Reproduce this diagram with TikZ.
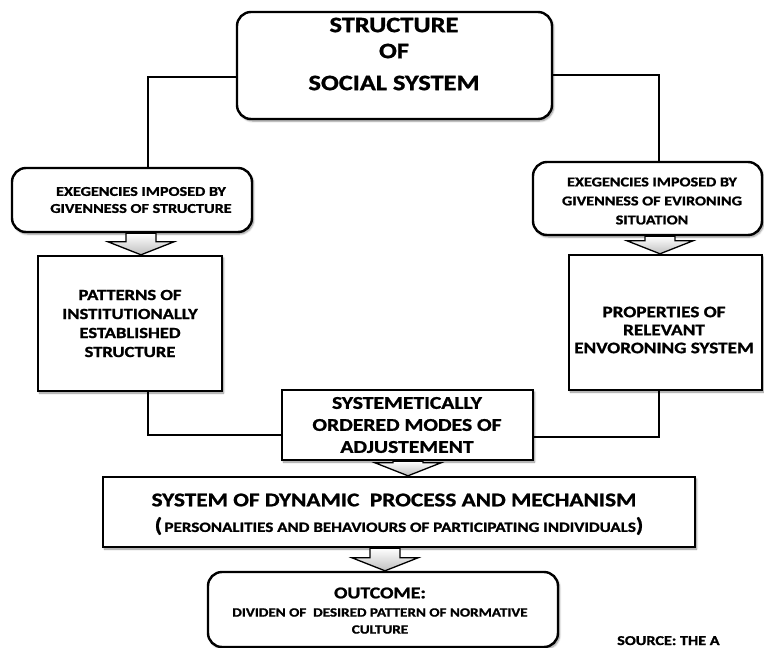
\documentclass[tikz,border=0pt]{standalone}
\usepackage{fontspec}
\setmainfont{Carlito}
\newfontfamily\widefont{Carlito}[FakeStretch=1.2, FakeBold=1.2]
\usetikzlibrary{shadows.blur,calc}
\newcommand{\blockarr}[3]{%
  \draw[barr] let \p1=(#2.south), \p2=(#3.north) in
    ({#1pt-15pt},{\y1}) -- ({#1pt+15pt},{\y1}) -- ({#1pt+15pt},{\y2+13pt}) --
    ({#1pt+33pt},{\y2+13pt}) -- ({#1pt},{\y2}) -- ({#1pt-33pt},{\y2+13pt}) --
    ({#1pt-15pt},{\y2+13pt}) -- cycle;}
\newcommand{\fs}[2]{\fontsize{#1}{#2}\widefont\bfseries}
\begin{document}
\begin{tikzpicture}[x=1pt,y=-1pt,
  box/.style={draw, line width=2.4pt, fill=white,
    blur shadow={shadow xshift=1.5pt, shadow yshift=-2pt, shadow blur steps=6, shadow opacity=45},
    inner sep=0pt},
  rbox/.style={box, rounded corners=14pt},
  txt/.style={align=center, inner sep=0pt},
  conn/.style={line width=2.2pt},
  barr/.style={draw, line width=1.3pt, top color=white, bottom color=gray!50},
]
\useasboundingbox (0,0) rectangle (764,648);

% boxes
\node[rbox, minimum width=315pt, minimum height=107pt] (top) at (394.5,65.5) {};
\node[rbox, minimum width=240pt, minimum height=64pt] (lexg) at (132,200) {};
\node[rbox, minimum width=229pt, minimum height=73pt] (rexg) at (647.5,198.5) {};
\node[box, minimum width=184pt, minimum height=135pt] (lpat) at (130,323.5) {};
\node[box, minimum width=193pt, minimum height=135pt] (rpat) at (665.5,322.5) {};
\node[box, minimum width=251pt, minimum height=70pt] (sysm) at (407.5,425) {};
\node[box, minimum width=592pt, minimum height=70pt] (dyn) at (399,512) {};
\node[rbox, minimum width=350pt, minimum height=75pt] (out) at (383,609.5) {};

% connectors
\draw[conn] (top.west |- 0,77) -| (148,0 |- lexg.north);
\draw[conn] (top.east |- 0,75) -| (659,0 |- rexg.north);
\draw[conn] (148,0 |- lpat.south) |- (sysm.west |- 0,435);
\draw[conn] (659,0 |- rpat.south) |- (sysm.east |- 0,437);

% block arrows
\blockarr{141}{lexg}{lpat}
\blockarr{660}{rexg}{rpat}
\blockarr{408}{sysm}{dyn}
\blockarr{385}{dyn}{out}

% texts
\node[txt, font=\fs{22}{26}] (ttop) at (394,54)
  {STRUCTURE\\OF\\[6pt]SOCIAL SYSTEM};
\node[txt, font=\fs{13.5}{17}] (tlexg) at (141,200)
  {EXEGENCIES IMPOSED BY\\GIVENNESS OF STRUCTURE};
\node[txt, font=\fs{13.5}{19}] (trexg) at (652,201)
  {EXEGENCIES IMPOSED BY\\GIVENNESS OF EVIRONING\\SITUATION};
\node[txt, font=\fs{15.5}{19}] (tlpat) at (130,323.5)
  {PATTERNS OF\\INSTITUTIONALLY\\ESTABLISHED\\STRUCTURE};
\node[txt, font=\fs{16}{18}] (trpat) at (664,330)
  {PROPERTIES OF\\RELEVANT\\ENVORONING SYSTEM};
\node[txt, font=\fs{18}{22}] (tsysm) at (407,425)
  {SYSTEMETICALLY\\ORDERED MODES OF\\ADJUSTEMENT};
\node[txt, font=\fs{19.4}{24}] (tdyn1) at (394,500)
  {SYSTEM OF DYNAMIC\ \ PROCESS AND MECHANISM};
\node[txt, font=\fs{14.2}{18}] (tdyn2) at (399,526)
  {{\fontsize{20}{20}\selectfont(}\,PERSONALITIES AND BEHAVIOURS OF PARTICIPATING INDIVIDUALS{\fontsize{20}{20}\selectfont)}};
\node[txt, font=\fs{16.5}{22}] (tout1) at (380,593) {OUTCOME:};
\node[txt, font=\fs{12.6}{17}] (tout2) at (380,621)
  {DIVIDEN OF\ \ DESIRED PATTERN OF NORMATIVE\\CULTURE};
\node[txt, font=\fs{13.5}{15}, anchor=base west] (src) at (617,645) {SOURCE: THE A};
\end{tikzpicture}
\end{document}
